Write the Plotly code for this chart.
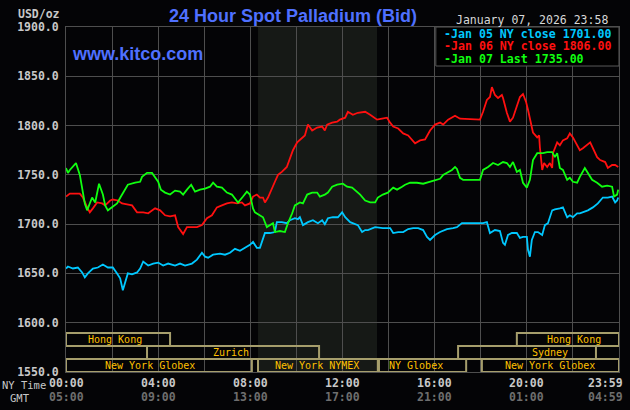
import plotly.graph_objects as go

# ---------------- data (minutes after 00:00 NY time, USD/oz) ----------------
jan05_min = [0, 5, 18, 31, 42, 49, 57, 70, 83, 96, 109, 122, 133, 141, 148, 154, 161, 172, 185, 193,
             201, 214, 227, 240, 253, 266, 284, 297, 310, 328, 341, 354, 362, 370, 383, 401, 414, 427,
             440, 453, 466, 479, 487, 497, 505, 513, 518, 531, 544, 549, 562, 575, 583, 596, 604, 609,
             617, 630, 643, 656, 667, 674, 682, 695, 708, 719, 727, 740, 753, 760, 771, 779, 786, 797,
             805, 825, 844, 852, 865, 878, 891, 904, 917, 930, 940, 948, 961, 974, 992, 1008, 1018, 1031,
             1078, 1086, 1096, 1104, 1117, 1130, 1138, 1143, 1151, 1161, 1174, 1182, 1190, 1200, 1203,
             1208, 1213, 1221, 1229, 1240, 1247, 1255, 1266, 1273, 1286, 1294, 1305, 1312, 1320, 1331,
             1338, 1346, 1359, 1372, 1385, 1398, 1411, 1422, 1430, 1435, 1438]
jan05_val = [1655, 1657, 1655, 1656, 1651, 1646, 1650, 1655, 1656, 1659, 1656, 1656, 1650, 1645, 1633,
             1641, 1650, 1649, 1651, 1655, 1662, 1658, 1660, 1661, 1658, 1660, 1658, 1660, 1658, 1660,
             1664, 1671, 1667, 1666, 1669, 1670, 1669, 1671, 1675, 1673, 1676, 1679, 1682, 1676, 1676,
             1684, 1691, 1691, 1692, 1702, 1702, 1701, 1704, 1706, 1705, 1707, 1699, 1702, 1704, 1701,
             1704, 1700, 1706, 1707, 1707, 1712, 1707, 1702, 1700, 1699, 1692, 1694, 1694, 1696, 1697,
             1696, 1696, 1691, 1692, 1692, 1695, 1696, 1696, 1694, 1687, 1684, 1689, 1692, 1695, 1696,
             1697, 1701, 1701, 1701, 1702, 1691, 1694, 1693, 1681, 1679, 1689, 1691, 1691, 1686, 1687,
             1687, 1674, 1667, 1684, 1692, 1692, 1689, 1699, 1701, 1714, 1715, 1716, 1717, 1707, 1709,
             1707, 1711, 1711, 1712, 1714, 1717, 1721, 1727, 1727, 1728, 1722, 1724, 1727]

jan06_min = [0, 10, 36, 44, 55, 62, 70, 81, 94, 102, 115, 122, 135, 146, 159, 172, 185, 201, 214, 232,
             245, 258, 271, 284, 292, 305, 315, 328, 341, 354, 367, 380, 393, 406, 419, 432, 445, 458,
             466, 479, 487, 497, 505, 513, 518, 526, 536, 544, 552, 562, 575, 583, 591, 602, 615, 622,
             630, 641, 654, 667, 674, 680, 693, 706, 713, 727, 734, 747, 760, 779, 792, 810, 823, 836,
             844, 852, 865, 878, 891, 901, 909, 922, 935, 948, 961, 974, 982, 995, 1013, 1026, 1078,
             1086, 1096, 1104, 1109, 1117, 1125, 1135, 1138, 1148, 1156, 1164, 1174, 1182, 1190, 1198,
             1203, 1211, 1216, 1227, 1232, 1234, 1240, 1245, 1253, 1260, 1266, 1268, 1279, 1286, 1294,
             1305, 1312, 1320, 1331, 1338, 1346, 1357, 1365, 1372, 1383, 1391, 1404, 1411, 1422, 1430,
             1438]
jan06_val = [1728, 1731, 1731, 1727, 1717, 1712, 1716, 1722, 1721, 1719, 1724, 1725, 1724, 1721, 1720,
             1719, 1712, 1712, 1711, 1716, 1714, 1709, 1708, 1709, 1697, 1690, 1697, 1697, 1697, 1699,
             1706, 1709, 1717, 1719, 1721, 1722, 1721, 1722, 1719, 1721, 1728, 1730, 1727, 1727, 1722,
             1727, 1735, 1743, 1750, 1753, 1758, 1767, 1775, 1783, 1787, 1790, 1801, 1795, 1798, 1799,
             1795, 1801, 1803, 1804, 1806, 1808, 1814, 1811, 1813, 1814, 1811, 1806, 1807, 1808, 1803,
             1799, 1797, 1792, 1790, 1785, 1782, 1785, 1786, 1795, 1801, 1803, 1801, 1806, 1810, 1807,
             1806, 1814, 1826, 1829, 1839, 1831, 1828, 1831, 1828, 1813, 1804, 1808, 1819, 1829, 1832,
             1824, 1816, 1801, 1793, 1788, 1790, 1778, 1755, 1762, 1758, 1762, 1757, 1772, 1783, 1780,
             1785, 1787, 1792, 1788, 1780, 1775, 1777, 1780, 1783, 1777, 1768, 1765, 1763, 1757, 1760,
             1760, 1758]

jan07_min = [0, 5, 10, 26, 36, 49, 55, 68, 76, 86, 96, 102, 109, 120, 133, 143, 151, 161, 180, 193,
             198, 211, 224, 232, 240, 247, 258, 271, 284, 297, 305, 315, 326, 336, 349, 362, 375, 383,
             393, 406, 419, 432, 448, 461, 471, 479, 487, 492, 505, 513, 523, 531, 539, 544, 557, 570,
             578, 589, 596, 609, 617, 628, 641, 654, 661, 674, 682, 693, 706, 721, 732, 745, 758, 766,
             779, 792, 805, 812, 825, 838, 852, 862, 875, 883, 896, 914, 930, 948, 961, 974, 982, 995,
             1005, 1013, 1018, 1026, 1034, 1078, 1086, 1099, 1112, 1125, 1138, 1148, 1156, 1164, 1174,
             1182, 1190, 1200, 1208, 1216, 1227, 1242, 1253, 1266, 1273, 1279, 1286, 1294, 1305, 1312,
             1320, 1331, 1338, 1351, 1359, 1370, 1383, 1396, 1409, 1422, 1427, 1435, 1438]
jan07_val = [1757, 1752, 1755, 1762, 1750, 1721, 1714, 1727, 1722, 1741, 1730, 1719, 1714, 1717, 1721,
             1728, 1733, 1740, 1742, 1743, 1748, 1752, 1752, 1748, 1743, 1735, 1732, 1730, 1734, 1733,
             1730, 1735, 1740, 1733, 1735, 1736, 1738, 1742, 1738, 1737, 1732, 1730, 1722, 1728, 1733,
             1730, 1716, 1712, 1709, 1707, 1697, 1699, 1701, 1692, 1693, 1692, 1701, 1711, 1719, 1722,
             1721, 1730, 1732, 1732, 1728, 1730, 1732, 1738, 1740, 1741, 1738, 1737, 1733, 1730, 1724,
             1722, 1722, 1727, 1730, 1732, 1737, 1735, 1738, 1740, 1742, 1742, 1741, 1743, 1745, 1746,
             1750, 1753, 1755, 1758, 1756, 1747, 1745, 1745, 1755, 1758, 1762, 1760, 1763, 1762, 1758,
             1763, 1753, 1755, 1742, 1737, 1745, 1765, 1772, 1772, 1773, 1773, 1768, 1772, 1757, 1755,
             1745, 1747, 1743, 1742, 1748, 1757, 1752, 1745, 1742, 1738, 1739, 1738, 1728, 1730, 1735]

series_names = ["Jan 05 NY close 1701.00", "Jan 06 NY close 1806.00", "Jan 07 Last 1735.00"]
series_colors = ["#00c8ff", "#ff1010", "#10ff10"]

ny_tick_labels = ["00:00", "04:00", "08:00", "12:00", "16:00", "20:00", "23:59"]
gmt_tick_labels = ["05:00", "09:00", "13:00", "17:00", "21:00", "01:00", "04:59"]
tick_minutes = [0, 240, 480, 720, 960, 1200, 1440]

# trading sessions: name, start minute, end minute, row (0 = top)
market_names = ["Hong Kong", "Zurich", "New York Globex", "New York NYMEX", "NY Globex",
                "New York Globex", "Hong Kong", "Sydney"]
market_start = [0, 211, 0, 500, 815, 1083, 1174, 1021]
market_end = [271, 659, 484, 812, 1042, 1440, 1440, 1380]
market_row = [0, 1, 2, 2, 2, 2, 0, 1]
market_label_min = [128, 430, 219, 654, 911, 1260, 1323, 1260]

nymex_shade = (500, 810)

# ---------------- figure ----------------
W, H = 630, 410
L, R, T, B = 66, 11, 27, 38
PW, PH = W - L - R, H - T - B


def px(xp):
    return (xp - L) / PW


def py(yp):
    return (H - B - yp) / PH


BG = "#040406"
GRID = "#4e4e4e"
TXT = "#c8c8c8"
MONO = "DejaVu Sans Mono"

fig = go.Figure()
for mins, vals, name, col in zip([jan05_min, jan06_min, jan07_min],
                                 [jan05_val, jan06_val, jan07_val],
                                 series_names, series_colors):
    fig.add_trace(go.Scatter(x=mins, y=vals, mode="lines", name=name,
                             line=dict(color=col, width=1.8), hoverinfo="skip"))

shapes = []
# NYMEX shaded session
shapes.append(dict(type="rect", xref="x", yref="y", x0=nymex_shade[0], x1=nymex_shade[1],
                   y0=1550, y1=1900, fillcolor="#161916", line=dict(width=0), layer="below"))

# market rows (value bands at bottom)
row_top = [1589.6, 1576.4, 1563.2]
row_bot = [1576.4, 1563.2, 1550.0]
annotations = []
for nm, s, e, r, lm in zip(market_names, market_start, market_end, market_row, market_label_min):
    shapes.append(dict(type="rect", xref="x", yref="y", x0=s, x1=e, y0=row_bot[r], y1=row_top[r],
                       fillcolor="rgba(0,0,0,0)", line=dict(color="#a69e6c", width=2), layer="above"))
    annotations.append(dict(x=lm, y=(row_top[r] + row_bot[r]) / 2, xref="x", yref="y", text=nm,
                            showarrow=False, font=dict(family=MONO, size=10, color="#ffc000"),
                            xanchor="center", yanchor="middle"))

# legend box
shapes.append(dict(type="rect", xref="x", yref="y", x0=963, x1=1440, y0=1860.4, y1=1900,
                   fillcolor="#000000", line=dict(color="#5a5a5a", width=1), layer="above"))
leg_y = [1893.0, 1880.3, 1867.5]
for name, col, yy in zip(series_names, series_colors, leg_y):
    annotations.append(dict(x=979, y=yy, xref="x", yref="y", text="-" + name, showarrow=False,
                            xanchor="left", yanchor="middle",
                            font=dict(family=MONO, size=11.6, color=col, weight="bold")))

# titles and texts
annotations += [
    dict(x=px(293), y=py(16), xref="paper", yref="paper", text="24 Hour Spot Palladium (Bid)",
         showarrow=False, xanchor="center", yanchor="middle",
         font=dict(family="Liberation Sans", size=18, color="#4f70ff", weight="bold")),
    dict(x=px(70), y=py(54), xref="paper", yref="paper", text="www.kitco.com",
         showarrow=False, xanchor="left", yanchor="middle",
         font=dict(family="Liberation Sans", size=18, color="#4f70ff", weight="bold")),
    dict(x=px(531.5), y=py(20), xref="paper", yref="paper", text="January 07, 2026 23:58",
         showarrow=False, xanchor="center", yanchor="middle",
         font=dict(family=MONO, size=11.5, color="#d8d8d8")),
    dict(x=px(62), y=py(14), xref="paper", yref="paper", text="USD/oz",
         showarrow=False, xanchor="right", yanchor="middle",
         font=dict(family=MONO, size=11.5, color=TXT, weight="bold")),
    dict(x=px(24), y=py(385), xref="paper", yref="paper", text="NY Time",
         showarrow=False, xanchor="center", yanchor="middle",
         font=dict(family=MONO, size=10.5, color=TXT)),
    dict(x=px(20), y=py(398), xref="paper", yref="paper", text="GMT",
         showarrow=False, xanchor="center", yanchor="middle",
         font=dict(family=MONO, size=10.5, color=TXT)),
]
for tm, ny, gm in zip(tick_minutes, ny_tick_labels, gmt_tick_labels):
    last = tm == 1440
    annotations.append(dict(x=tm, y=py(383), xref="x", yref="paper", text=ny, showarrow=False,
                            xanchor="right" if last else "center", xshift=6 if last else 0,
                            yanchor="middle",
                            font=dict(family=MONO, size=11.5, color=TXT, weight="bold")))
    annotations.append(dict(x=tm, y=py(397), xref="x", yref="paper", text=gm, showarrow=False,
                            xanchor="right" if last else "center", xshift=6 if last else 0,
                            yanchor="middle",
                            font=dict(family=MONO, size=11.5, color="#6e6e6e", weight="bold")))

fig.update_layout(
    width=W, height=H, margin=dict(l=L, r=R, t=T, b=B, pad=0),
    paper_bgcolor=BG, plot_bgcolor=BG, showlegend=False,
    shapes=shapes, annotations=annotations,
    xaxis=dict(range=[0, 1440], dtick=120, tick0=0, showgrid=True, gridcolor=GRID, gridwidth=1,
               showticklabels=False, zeroline=False, showline=True, mirror=True, linecolor=GRID,
               linewidth=1, fixedrange=True),
    yaxis=dict(range=[1550, 1900], dtick=50, tick0=1550, showgrid=True, gridcolor=GRID, gridwidth=1,
               tickformat=".1f", ticks="", ticklabelstandoff=4, zeroline=False, showline=True,
               mirror=True, linecolor=GRID, linewidth=1,
               tickfont=dict(family=MONO, size=11.5, color=TXT, weight="bold"), fixedrange=True),
)

fig.write_html("out.html", config={"displayModeBar": False},
               post_script="document.body.style.margin='0';document.body.style.background='#040406';")
